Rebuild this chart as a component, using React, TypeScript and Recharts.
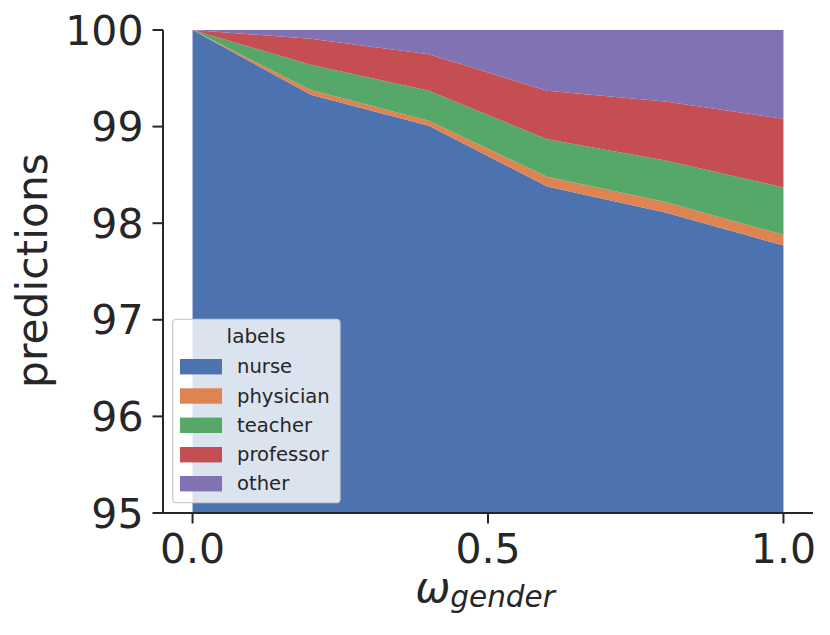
import React from 'react'
import { AreaChart, Area, XAxis, YAxis } from 'recharts'

const omega = [0, 0.2, 0.4, 0.6, 0.8, 1.0]
const nurse = [100, 99.33, 99.01, 98.38, 98.11, 97.77]
const physician = [0, 0.05, 0.05, 0.1, 0.11, 0.11]
const teacher = [0, 0.26, 0.31, 0.39, 0.43, 0.49]
const professor = [0, 0.27, 0.38, 0.5, 0.61, 0.71]
const other = [0, 0.09, 0.25, 0.63, 0.74, 0.92]

const labels = ['nurse', 'physician', 'teacher', 'professor', 'other']
const colors = ['#4c72b0', '#dd8452', '#55a868', '#c44e52', '#8172b3']
const xTicks = [0, 0.5, 1.0]
const yTicks = [95, 96, 97, 98, 99, 100]

const data = omega.map((w, i) => ({
  w,
  nurse: nurse[i],
  physician: physician[i],
  teacher: teacher[i],
  professor: professor[i],
  other: other[i],
}))

const FONT = "'DejaVu Sans', sans-serif"
const INK = '#262626'
const tickStyle = { fontSize: 41, fill: INK, fontFamily: FONT }

// x label: omega with a "gender" subscript, like matplotlib mathtext
function XLabel(props: any) {
  const vb = props.viewBox
  const cx = vb.x + vb.width / 2 - 3
  return (
    <text x={cx} y={601.7} textAnchor="middle" fill={INK} fontFamily={FONT} fontStyle="italic" fontSize={42}>
      ω
      <tspan fontSize={29.5} dy={5.6}>gender</tspan>
    </text>
  )
}

function YLabel(props: any) {
  const vb = props.viewBox
  const cy = vb.y + vb.height / 2 - 1
  return (
    <text
      x={47}
      y={cy}
      transform={`rotate(-90 47 ${cy})`}
      textAnchor="middle"
      fill={INK}
      fontFamily={FONT}
      fontSize={42.4}
    >
      predictions
    </text>
  )
}

function LegendBox() {
  const rows = [366.7, 396, 425.3, 454.7, 483.7]
  return (
    <svg width={830} height={635} style={{ position: 'absolute', left: 0, top: 0, pointerEvents: 'none' }}>
      <rect x={172.7} y={319.3} width={167.3} height={183.4} rx={3.5} fill="rgba(255,255,255,0.8)" stroke="#cccccc" strokeWidth={1.3} />
      <text x={256} y={336} textAnchor="middle" dominantBaseline="central" fill={INK} fontFamily={FONT} fontSize={20}>
        labels
      </text>
      {labels.map((l, i) => (
        <g key={l}>
          <rect x={180} y={rows[i] - 7.7} width={42} height={15.4} fill={colors[i]} />
          <text x={237} y={rows[i]} dominantBaseline="central" fill={INK} fontFamily={FONT} fontSize={19.6}>
            {l}
          </text>
        </g>
      ))}
    </svg>
  )
}

export default function App() {
  return (
    <div style={{ position: 'absolute', left: 0, top: 0, width: 830, height: 635, background: '#fff' }}>
      <AreaChart width={830} height={635} data={data} margin={{ top: 30, right: 17, bottom: 0, left: 0 }}>
        <XAxis
          dataKey="w"
          type="number"
          domain={[-0.05, 1.05]}
          ticks={xTicks}
          tickFormatter={(v: number) => v.toFixed(1)}
          height={122}
          tick={tickStyle}
          tickSize={10.5}
          tickMargin={10}
          axisLine={{ stroke: INK, strokeWidth: 2 }}
          tickLine={{ stroke: INK, strokeWidth: 2 }}
          allowDataOverflow
          label={<XLabel />}
        />
        <YAxis
          type="number"
          domain={[95, 100]}
          ticks={yTicks}
          interval={0}
          width={163}
          tick={tickStyle}
          tickSize={10.5}
          tickMargin={9}
          axisLine={{ stroke: INK, strokeWidth: 2 }}
          tickLine={{ stroke: INK, strokeWidth: 2 }}
          allowDataOverflow
          label={<YLabel />}
        />
        {labels.map((l, i) => (
          <Area
            key={l}
            type="linear"
            dataKey={l}
            stackId="s"
            stroke="none"
            fill={colors[i]}
            fillOpacity={1}
            isAnimationActive={false}
            dot={false}
            activeDot={false}
          />
        ))}
      </AreaChart>
      <LegendBox />
    </div>
  )
}
